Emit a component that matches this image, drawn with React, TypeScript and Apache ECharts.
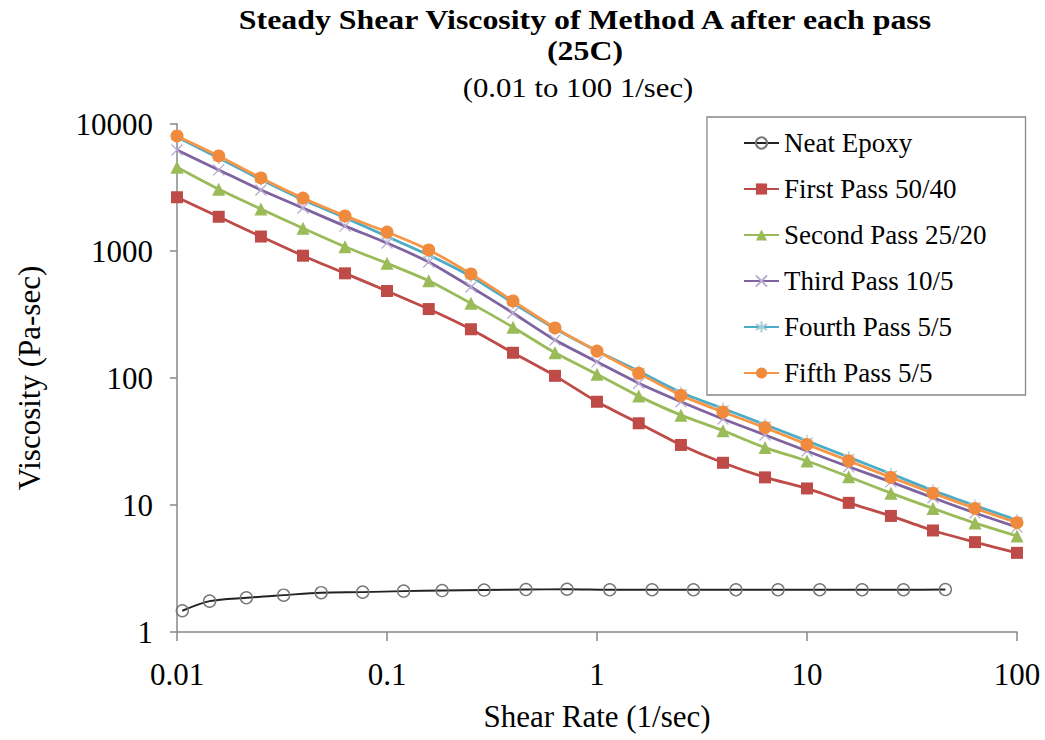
import React, { useEffect, useRef } from "react";
import * as echarts from "echarts";

const shearRate = [0.01, 0.0158, 0.0251, 0.0398, 0.0631, 0.1, 0.158, 0.251, 0.398, 0.631, 1, 1.58, 2.51, 3.98, 6.31, 10, 15.8, 25.1, 39.8, 63.1, 100];
const firstPass = [2650, 1860, 1300, 918, 667, 484, 349, 242, 158, 104, 65, 44, 29.7, 21.5, 16.5, 13.5, 10.4, 8.2, 6.3, 5.1, 4.2];
const secondPass = [4560, 3060, 2140, 1510, 1080, 800, 583, 387, 251, 158, 107, 72, 51, 38.5, 28.3, 22.2, 16.7, 12.4, 9.4, 7.2, 5.7];
const thirdPass = [6240, 4350, 3020, 2180, 1570, 1155, 818, 521, 325, 199, 134, 91, 65, 47.5, 35.6, 26.6, 20, 15.2, 11.4, 8.65, 6.7];
const fourthPass = [7900, 5400, 3650, 2530, 1830, 1300, 930, 630, 390, 245, 163, 113, 77, 57.5, 43, 32, 23.8, 17.6, 13, 9.9, 7.6];
const fifthPass = [8050, 5600, 3760, 2610, 1890, 1410, 1020, 660, 404, 248, 163, 109, 73, 54, 40.7, 30, 22.3, 16.5, 12.4, 9.4, 7.26];

const neatRate = [0.0106, 0.0143, 0.0214, 0.0322, 0.0486, 0.0766, 0.12, 0.183, 0.29, 0.459, 0.72, 1.15, 1.83, 2.88, 4.59, 7.28, 11.5, 18.3, 28.8, 45.6];
const neatEpoxy = [1.47, 1.75, 1.86, 1.95, 2.04, 2.06, 2.1, 2.12, 2.14, 2.16, 2.17, 2.15, 2.15, 2.15, 2.15, 2.15, 2.15, 2.15, 2.15, 2.16];

const seriesNames = ["Neat Epoxy", "First Pass 50/40", "Second Pass 25/20", "Third Pass 10/5", "Fourth Pass 5/5", "Fifth Pass 5/5"];
const titleLines = ["Steady Shear Viscosity of Method A after each pass", "(25C)", "(0.01 to 100 1/sec)"];

const FONT = '"Liberation Serif", "Times New Roman", serif';

const pair = (xs: number[], ys: number[]) => xs.map((x, i) => [x, ys[i]]);
const fmt = (v: number) => String(parseFloat(Number(v).toPrecision(6)));

export default function App() {
  const ref = useRef<HTMLDivElement>(null);
  useEffect(() => {
    if (!ref.current) return;
    const chart = echarts.init(ref.current, undefined, { renderer: "svg" });
    const lineBase = (name: string, color: string) => ({
      name,
      type: "line",
      smooth: 0.2,
      lineStyle: { color, width: 2.8 },
      z: 2,
    });
    chart.setOption({
      animation: false,
      backgroundColor: "#fff",
      textStyle: { fontFamily: FONT },
      graphic: [
        { type: "text", x: 585, y: 20, scaleX: 1.18, style: { text: titleLines[0], font: `bold 27px ${FONT}`, fill: "#000", textAlign: "center", textVerticalAlign: "middle" } },
        { type: "text", x: 585, y: 51, scaleX: 1.18, style: { text: titleLines[1], font: `bold 27px ${FONT}`, fill: "#000", textAlign: "center", textVerticalAlign: "middle" } },
        { type: "text", x: 578, y: 88, scaleX: 1.14, style: { text: titleLines[2], font: `27px ${FONT}`, fill: "#000", textAlign: "center", textVerticalAlign: "middle" } },
      ],
      legend: {
        orient: "vertical",
        left: 707,
        top: 117,
        padding: [12, 39, 8, 36],
        itemGap: 18,
        itemWidth: 35,
        itemHeight: 14,
        borderColor: "#888",
        borderWidth: 1.3,
        data: seriesNames,
        textStyle: { fontFamily: FONT, fontSize: 27, color: "#000", lineHeight: 28 },
      },
      grid: { left: 177, right: 28, top: 124, bottom: 108, containLabel: false },
      xAxis: {
        type: "log",
        logBase: 10,
        min: 0.01,
        max: 100,
        name: "Shear Rate (1/sec)",
        nameLocation: "middle",
        nameGap: 69,
        nameTextStyle: { fontFamily: FONT, fontSize: 31, color: "#000" },
        axisLine: { lineStyle: { color: "#888", width: 1.5 } },
        axisTick: { show: true, inside: false, length: 9, lineStyle: { color: "#888", width: 1.5 } },
        minorTick: { show: false },
        splitLine: { show: false },
        axisLabel: { fontFamily: FONT, fontSize: 31, color: "#000", margin: 27, formatter: fmt },
      },
      yAxis: {
        type: "log",
        logBase: 10,
        min: 1,
        max: 10000,
        name: "Viscosity (Pa-sec)",
        nameLocation: "middle",
        nameGap: 132,
        nameTextStyle: { fontFamily: FONT, fontSize: 31, color: "#000" },
        axisLine: { show: true, lineStyle: { color: "#888", width: 1.5 } },
        axisTick: { show: true, inside: false, length: 7, lineStyle: { color: "#888", width: 1.5 } },
        splitLine: { show: false },
        axisLabel: { fontFamily: FONT, fontSize: 31, color: "#000", margin: 24, formatter: fmt },
      },
      series: [
        {
          name: seriesNames[0],
          type: "line",
          smooth: 0.3,
          data: pair(neatRate, neatEpoxy),
          symbol: "circle",
          symbolSize: 12,
          lineStyle: { color: "#222", width: 1.9 },
          itemStyle: { color: "rgba(255,255,255,0)", borderColor: "#777", borderWidth: 1.4 },
          z: 2,
        },
        {
          ...lineBase(seriesNames[1], "#BE4B48"),
          data: pair(shearRate, firstPass),
          symbol: "rect",
          symbolSize: 12,
          itemStyle: { color: "#BE4B48" },
        },
        {
          ...lineBase(seriesNames[2], "#9BBB59"),
          data: pair(shearRate, secondPass),
          symbol: "triangle",
          symbolSize: 13,
          itemStyle: { color: "#9BBB59" },
        },
        {
          ...lineBase(seriesNames[3], "#7F63A1"),
          data: pair(shearRate, thirdPass),
          symbol: "path://M0,0L10,10M10,0L0,10",
          symbolSize: 11,
          itemStyle: { color: "#7F63A1", borderColor: "#B9ACD0", borderWidth: 1.3 },
        },
        {
          ...lineBase(seriesNames[4], "#4BACC6"),
          data: pair(shearRate, fourthPass),
          symbol: "path://M5,0L5,10M0,2.5L10,7.5M0,7.5L10,2.5",
          symbolSize: 12,
          itemStyle: { color: "#4BACC6", borderColor: "#A9CCD8", borderWidth: 1.3 },
        },
        {
          ...lineBase(seriesNames[5], "#F79646"),
          data: pair(shearRate, fifthPass),
          symbol: "circle",
          symbolSize: 13,
          itemStyle: { color: "#F08A3C" },
        },
      ],
    });
    return () => chart.dispose();
  }, []);
  return <div ref={ref} style={{ position: "fixed", left: 0, top: 0, width: 1045, height: 740 }} />;
}
